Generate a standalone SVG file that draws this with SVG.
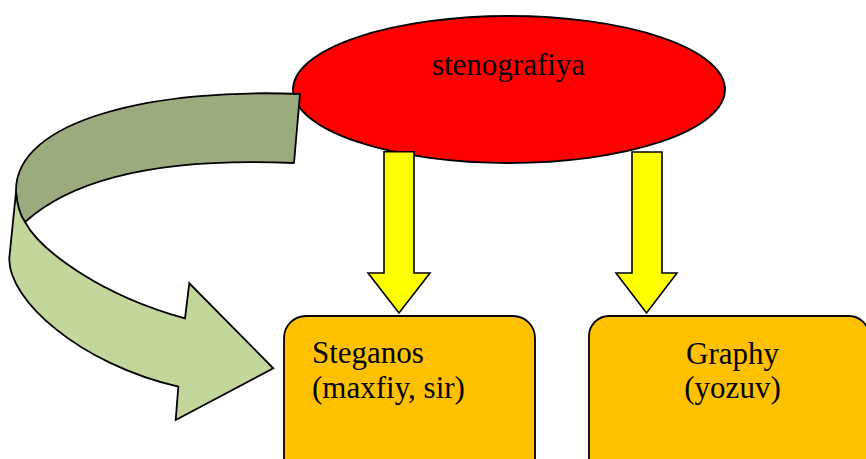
<svg xmlns="http://www.w3.org/2000/svg" width="866" height="459" viewBox="0 0 866 459">
  <style>
    .lbl { font-family: "Liberation Serif", "Times New Roman", serif; font-size: 31px; fill: #000; }
    .box { fill: #FFC000; stroke: #000; stroke-width: 1.8; }
    .down { fill: #FFFF00; stroke: #000; stroke-width: 1.6; stroke-linejoin: miter; }
    .band-back { fill: #9CAB7D; stroke: #000; stroke-width: 1.8; stroke-linejoin: round; }
    .band-front { fill: #C3D69B; stroke: #000; stroke-width: 1.8; stroke-linejoin: miter; }
  </style>

  <!-- root concept -->
  <g id="node-stenografiya">
    <ellipse cx="509" cy="89.5" rx="216" ry="73.5" fill="#FF0000" stroke="#000" stroke-width="1.8"/>
    <text class="lbl" x="508.5" y="75" text-anchor="middle">stenografiya</text>
  </g>

  <!-- word parts -->
  <g id="node-steganos">
    <rect class="box" x="284" y="316" width="251" height="170" rx="22" ry="22"/>
    <text class="lbl" x="312" y="363">Steganos</text>
    <text class="lbl" x="312" y="398">(maxfiy, sir)</text>
  </g>

  <g id="node-graphy">
    <rect class="box" x="589" y="316" width="280" height="170" rx="20" ry="20"/>
    <text class="lbl" x="732.5" y="364" text-anchor="middle">Graphy</text>
    <text class="lbl" x="732.5" y="398" text-anchor="middle">(yozuv)</text>
  </g>

  <!-- connectors -->
  <g id="connectors">
    <!-- block arrows down from the ellipse -->
    <path class="down" d="M384,151.7 H414 V273 H430 L399,313 L368,273 H384 Z"/>
    <path class="down" d="M632,152 H662 V273 H677 L646.5,313 L616,273 H632 Z"/>

    <!-- curved ribbon arrow: back face, then front face with head -->
    <path class="band-back" d="M300,94 L294,163 C180,158 80,172 25,222 C20,215 17,205 16,192 C14,118 160,88 300,94 Z"/>
    <path class="band-front" d="M16,192 L9.3,258 C8,300 80,364 178.3,386.7 L175.7,420 L273.3,368.3 L189.3,283.3 L185,318.3 C100,295 40,250 25,222 C20,215 17,205 16,192 Z"/>
  </g>
</svg>
